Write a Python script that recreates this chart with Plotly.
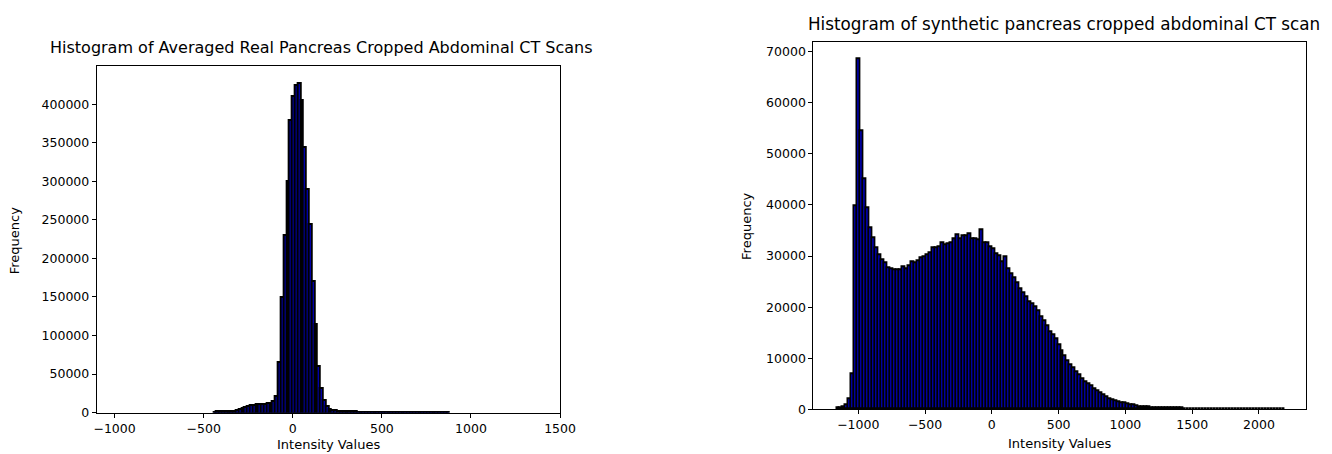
import numpy as np
import plotly.graph_objects as go

# ---------------- data ----------------
# Left: averaged real pancreas CT, 150 bins over [-982, 1382]
real_range = [-982, 1382]
real_counts = [
    0, 0, 0, 0, 0, 0, 0, 0, 0, 0,
    0, 0, 0, 0, 0, 0, 0, 0, 0, 0,
    0, 0, 0, 0, 0, 0, 0, 0, 0, 0,
    0, 0, 0, 0,
    1200, 1500, 1600, 1700, 1800, 2000, 2200, 2600, 3300, 4700,
    6200, 7400, 8600, 9200, 10200, 11000, 10600, 11000, 11500, 12000,
    12500, 15500, 22000, 65000, 150000, 230000, 300000, 380000, 410000, 425000,
    427000, 405000, 345000, 290000, 245000, 170000, 115000, 60000, 32000, 16000,
    8500, 5000, 3500, 3000, 2500, 2200, 2000, 1800, 1600, 1500,
    1400, 1300, 1250, 1200, 1150, 1100, 1050, 1000, 950, 900,
    850, 800, 750, 700, 650, 600, 550, 450, 400, 380,
    360, 340, 320, 300, 290, 280, 270, 260, 250, 240,
    230, 220, 210, 200, 0, 0, 0, 0, 0, 0,
    0, 0, 0, 0, 0, 0, 0, 0, 0, 0,
    0, 0, 0, 0, 0, 0, 0, 0, 0, 0,
    0, 0, 0, 0, 0, 0,
]

# Right: synthetic pancreas CT, 150 bins over [-1160, 2194]
syn_range = [-1160, 2194]
syn_counts = [
    150, 300, 500, 900, 2000, 6800, 39700, 68500, 54500, 45000,
    39300, 35400, 33500, 31500, 30200, 29200, 28600, 27700, 27500, 27200,
    27200, 27300, 27900, 27500, 28000, 28800, 28700, 29000, 29600, 29700,
    30100, 30500, 31500, 31500, 31700, 32600, 32100, 32400, 32500, 33300,
    34100, 33300, 33800, 33900, 34300, 33400, 33400, 33200, 35000, 32600,
    32600, 31700, 31300, 30400, 30000, 28800, 29700, 27500, 26500, 25700,
    24700, 23600, 22700, 22000, 21000, 20500, 20000, 19200, 18000, 17200,
    16200, 15200, 14500, 13700, 12500, 11300, 10400, 9500, 8600, 8000,
    7300, 6700, 6000, 5400, 5000, 4500, 3900, 3500, 3100, 2700,
    2300, 2000, 1800, 1550, 1400, 1300, 1200, 1050, 900, 780,
    600, 520, 460, 410, 370, 340, 310, 290, 270, 250,
    230, 210, 190, 170, 160, 150, 140, 130, 120, 110,
    100, 40, 35, 30, 30, 30, 25, 25, 25, 25,
    20, 20, 20, 20, 20, 20, 20, 20, 20, 20,
    15, 15, 15, 15, 15, 15, 15, 15, 15, 20,
]

real_xticks = [-1000, -500, 0, 500, 1000, 1500]
real_yticks = [0, 50000, 100000, 150000, 200000, 250000, 300000, 350000, 400000]
syn_xticks = [-1000, -500, 0, 500, 1000, 1500, 2000]
syn_yticks = [0, 10000, 20000, 30000, 40000, 50000, 60000, 70000]

title_left = "Histogram of Averaged Real Pancreas Cropped Abdominal CT Scans"
title_right = "Histogram of synthetic pancreas cropped abdominal CT scan"
xlabel = "Intensity Values"
ylabel = "Frequency"

# ---------------- figure ----------------
W, H = 1332, 454
FONT = "DejaVu Sans"


def bins(rng, counts):
    edges = np.linspace(rng[0], rng[1], len(counts) + 1)
    centers = (edges[:-1] + edges[1:]) / 2
    keep = np.array(counts) > 0          # empty bins draw nothing
    return centers[keep], np.array(counts)[keep], edges[1] - edges[0]


rc, rv, rw = bins(real_range, real_counts)
sc, sv, sw = bins(syn_range, syn_counts)

fig = go.Figure()
fig.add_trace(go.Bar(x=rc, y=rv, width=rw, xaxis="x", yaxis="y",
                     marker=dict(color="#0000ff", line=dict(color="black", width=2.1))))
fig.add_trace(go.Bar(x=sc, y=sv, width=sw, xaxis="x2", yaxis="y2",
                     marker=dict(color="#0000ff", line=dict(color="black", width=1.9))))


def px_x(p):
    return p / W


def px_y(p):
    return (H - p) / H


axis_common = dict(showline=True, mirror=True, linecolor="black", linewidth=1,
                   ticks="outside", ticklen=4, tickwidth=1, tickcolor="black",
                   showgrid=False, zeroline=False,
                   tickfont=dict(family=FONT, size=12.5, color="black"))

fig.update_layout(
    width=W, height=H,
    margin=dict(l=0, r=0, t=0, b=0),
    paper_bgcolor="white", plot_bgcolor="white",
    showlegend=False, bargap=0,
    xaxis=dict(domain=[px_x(87), px_x(557)], range=[-1100, 1500], anchor="y",
               tickvals=real_xticks, **axis_common),
    yaxis=dict(domain=[px_y(411), px_y(59)], range=[0, 449400], anchor="x",
               tickvals=real_yticks, tickformat="d", **axis_common),
    xaxis2=dict(domain=[px_x(814), px_x(1314)], range=[-1336, 2354], anchor="y2",
                tickvals=syn_xticks, **axis_common),
    yaxis2=dict(domain=[px_y(407.7), px_y(34.7)], range=[0, 71850], anchor="x2",
                tickvals=syn_yticks, tickformat="d", **axis_common),
)

ann = [
    dict(text=title_left, x=px_x(315), y=px_y(40), size=16),
    dict(text=title_right, x=px_x(1068), y=px_y(16), size=16.8),
    dict(text=xlabel, x=px_x(322), y=px_y(443), size=13),
    dict(text=xlabel, x=px_x(1064), y=px_y(442), size=13),
]
for a in ann:
    fig.add_annotation(text=a["text"], x=a["x"], y=a["y"], xref="paper", yref="paper",
                       xanchor="center", yanchor="middle", showarrow=False,
                       font=dict(family=FONT, size=a["size"], color="black"))
for xx, yy in [(3, 236), (746, 222)]:
    fig.add_annotation(text=ylabel, x=px_x(xx), y=px_y(yy), xref="paper", yref="paper",
                       xanchor="center", yanchor="middle", showarrow=False, textangle=-90,
                       font=dict(family=FONT, size=13, color="black"))

fig.write_html("out.html")
